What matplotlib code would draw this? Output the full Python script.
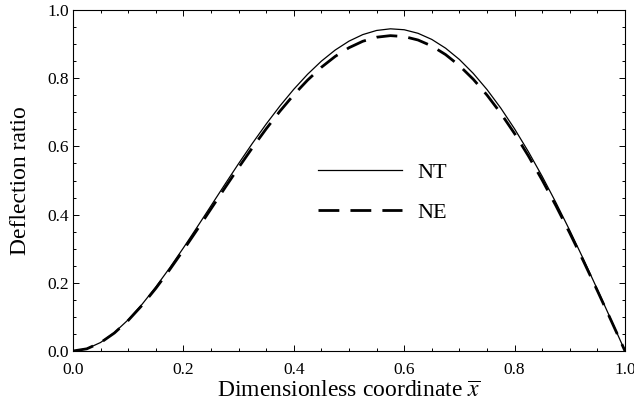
import matplotlib
matplotlib.use("Agg")
import matplotlib.pyplot as plt
from matplotlib.ticker import MultipleLocator, FormatStrFormatter

plt.rcParams['font.family'] = ['Liberation Serif', 'DejaVu Serif']
plt.rcParams['mathtext.fontset'] = 'stix'

x_vals = [0.0, 0.025, 0.05, 0.075, 0.1, 0.125, 0.15, 0.175, 0.2, 0.225, 0.25,
          0.275, 0.3, 0.325, 0.35, 0.375, 0.4, 0.425, 0.45, 0.475, 0.5,
          0.525, 0.55, 0.575, 0.6, 0.625, 0.65, 0.675, 0.7, 0.725, 0.75,
          0.775, 0.8, 0.825, 0.85, 0.875, 0.9, 0.925, 0.95, 0.975, 1.0]
nt_vals = [0.0, 0.0065, 0.025, 0.054, 0.0916, 0.1367, 0.1877, 0.2434, 0.3024, 0.3636, 0.4259,
           0.4882, 0.5496, 0.6090, 0.6656, 0.7188, 0.7676, 0.8116, 0.8501, 0.8826, 0.9087,
           0.9279, 0.9400, 0.9448, 0.9421, 0.9317, 0.9137, 0.8880, 0.8549, 0.8143, 0.7667,
           0.7122, 0.6513, 0.5844, 0.5121, 0.4348, 0.3533, 0.2682, 0.1804, 0.0907, 0.0]
ne_vals = [0.0, 0.0064, 0.0245, 0.0528, 0.0897, 0.1338, 0.1837, 0.2382, 0.2960, 0.3559, 0.4169,
           0.4779, 0.5379, 0.5961, 0.6516, 0.7035, 0.7514, 0.7944, 0.8321, 0.8639, 0.8894,
           0.9083, 0.9202, 0.9248, 0.9221, 0.9120, 0.8944, 0.8692, 0.8368, 0.7971, 0.7505,
           0.6971, 0.6375, 0.5721, 0.5012, 0.4256, 0.3458, 0.2626, 0.1766, 0.0888, 0.0]
labels = ["NT", "NE"]

fig = plt.figure(figsize=(6.34, 4.07), dpi=100)
ax = fig.add_axes([73/634, 1 - 351/407, (625 - 73)/634, (351 - 10)/407])

ax.plot(x_vals, nt_vals, color='black', lw=0.9, label=labels[0])
ax.plot(x_vals, ne_vals, color='black', lw=2.0, linestyle=(0, (7.5, 4)), label=labels[1])

ax.set_xlim(0, 1)
ax.set_ylim(0, 1)
ax.xaxis.set_major_locator(MultipleLocator(0.2))
ax.xaxis.set_minor_locator(MultipleLocator(0.05))
ax.yaxis.set_major_locator(MultipleLocator(0.2))
ax.yaxis.set_minor_locator(MultipleLocator(0.05))
ax.xaxis.set_major_formatter(FormatStrFormatter('%.1f'))
ax.yaxis.set_major_formatter(FormatStrFormatter('%.1f'))
ax.tick_params(which='both', direction='in', top=True, right=True, labelsize=12.5, width=0.7)
ax.tick_params(which='major', length=4)
ax.tick_params(which='minor', length=2.2)
ax.tick_params(axis='x', pad=8)
ax.tick_params(axis='y', pad=3)
for s in ax.spines.values():
    s.set_linewidth(0.8)

ax.set_xlabel(r'Dimensionless coordinate $\overline{x}$', fontsize=17, labelpad=2)
ax.set_ylabel('Deflection ratio', fontsize=17, labelpad=12)

ax.legend(loc='upper left', bbox_to_anchor=(318/634, 1 - 162/407), bbox_transform=fig.transFigure,
          frameon=False, fontsize=16, handlelength=3.8, handletextpad=0.65, labelspacing=0.88,
          borderpad=0, borderaxespad=0)

fig.savefig('out.png', dpi=100)
